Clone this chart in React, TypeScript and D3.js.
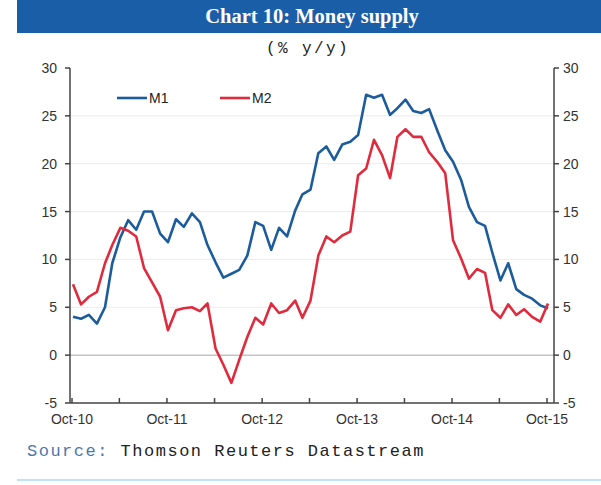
import * as React from "react";
import * as d3 from "d3";

const width = 601;
const height = 485;

const startMonth = new Date(2010, 9, 1);

const m1Values = [
  4.0, 3.8, 4.2, 3.3, 5.0, 9.6, 12.3, 14.1, 13.1, 15.0, 15.0, 12.7, 11.8, 14.2, 13.4, 14.8,
  13.9, 11.5, 9.7, 8.1, 8.5, 8.9, 10.4, 13.9, 13.5, 11.0, 13.3, 12.4, 15.1, 16.8, 17.3,
  21.1, 21.8, 20.4, 22.0, 22.3, 23.0, 27.2, 26.9, 27.2, 25.1, 25.8, 26.7, 25.5, 25.3, 25.7,
  23.5, 21.4, 20.2, 18.3, 15.5, 13.9, 13.5, 10.7, 7.8, 9.6, 6.9, 6.3, 5.9, 5.2, 4.9,
];

const m2Values = [
  7.4, 5.3, 6.1, 6.6, 9.6, 11.5, 13.3, 13.0, 12.4, 9.1, 7.6, 6.1, 2.6, 4.7, 4.9, 5.0,
  4.6, 5.4, 0.7, -1.0, -2.9, -0.5, 1.9, 3.9, 3.2, 5.4, 4.4, 4.7, 5.7, 3.9, 5.7,
  10.4, 12.4, 11.8, 12.5, 12.9, 18.8, 19.5, 22.5, 20.9, 18.5, 22.8, 23.6, 22.8, 22.8, 21.2,
  20.2, 19.0, 12.0, 10.1, 8.0, 9.0, 8.6, 4.7, 3.9, 5.3, 4.2, 4.8, 4.0, 3.5, 5.4,
];

const yTicks = [-5, 0, 5, 10, 15, 20, 25, 30];
const xLabels = ["Oct-10", "Oct-11", "Oct-12", "Oct-13", "Oct-14", "Oct-15"];

const series = [
  { name: "M1", values: m1Values, color: "#1c5c9c" },
  { name: "M2", values: m2Values, color: "#e02a3e" },
];

const months = m1Values.map((_, i) => d3.timeMonth.offset(startMonth, i));

const axisFont = "Arial, 'Liberation Sans', sans-serif";
const monoFont = "'Liberation Mono', 'DejaVu Sans Mono', monospace";

const left = 70;
const right = 554;
const top = 68;
const bottom = 403;

export default function App() {
  const xScale = React.useMemo(
    () =>
      d3
        .scaleTime()
        .domain([startMonth, d3.timeMonth.offset(startMonth, 60)])
        .range([73, 548]),
    []
  );

  const yScale = React.useMemo(
    () => d3.scaleLinear().domain([-5, 30]).range([bottom, top]),
    []
  );

  const line = d3
    .line<number>()
    .x((_, i) => xScale(months[i]))
    .y((d) => yScale(d));

  // half-yearly ticks (Oct / Apr)
  const tickMonths = d3.range(0, 61, 6).map((m) => d3.timeMonth.offset(startMonth, m));

  return (
    <div style={{ position: "absolute", left: 0, top: 0 }}>
      <svg width={width} height={height} viewBox={`0 0 ${width} ${height}`}>
        <rect x={0} y={0} width={width} height={height} fill="#ffffff" />
        <rect x={17} y={0} width={width - 17} height={33} fill="#1b5ea8" />
        <text
          x={312}
          y={23}
          textAnchor="middle"
          fill="#ffffff"
          fontFamily="'Liberation Serif', 'Times New Roman', serif"
          fontWeight="bold"
          fontSize={20.5}
        >
          Chart 10: Money supply
        </text>
        <text
          x={308}
          y={53}
          textAnchor="middle"
          fill="#222"
          fontFamily={monoFont}
          fontSize={16}
          letterSpacing={2.4}
        >
          (% y/y)
        </text>

        {/* gridlines */}
        {yTicks
          .filter((t) => t > -5 && t < 30)
          .map((t) => (
            <line
              key={t}
              x1={left}
              x2={right}
              y1={yScale(t)}
              y2={yScale(t)}
              stroke={t === 0 ? "#c4c4c4" : "#ececec"}
              strokeWidth={t === 0 ? 1.5 : 1}
            />
          ))}

        {/* axes */}
        <line x1={left} x2={left} y1={top} y2={bottom} stroke="#444" strokeWidth={1.5} />
        <line x1={right} x2={right} y1={top} y2={bottom} stroke="#444" strokeWidth={1.5} />
        <line x1={left} x2={right} y1={bottom} y2={bottom} stroke="#444" strokeWidth={1.5} />

        {yTicks.map((t) => (
          <g key={t}>
            <line x1={left - 5} x2={left} y1={yScale(t)} y2={yScale(t)} stroke="#444" strokeWidth={1.5} />
            <line x1={right} x2={right + 5} y1={yScale(t)} y2={yScale(t)} stroke="#444" strokeWidth={1.5} />
            <text
              x={57}
              y={yScale(t) + 5}
              textAnchor="end"
              fontFamily={axisFont}
              fontSize={14}
              fill="#333"
            >
              {t}
            </text>
            <text
              x={563}
              y={yScale(t) + 5}
              textAnchor="start"
              fontFamily={axisFont}
              fontSize={14}
              fill="#333"
            >
              {t}
            </text>
          </g>
        ))}

        {tickMonths.map((d, i) => (
          <line
            key={i}
            x1={xScale(d) - 1}
            x2={xScale(d) - 1}
            y1={bottom}
            y2={bottom - 5}
            stroke="#444"
            strokeWidth={1.5}
          />
        ))}

        {xLabels.map((label, i) => (
          <text
            key={label}
            x={xScale(d3.timeMonth.offset(startMonth, i * 12)) - 1}
            y={424}
            textAnchor="middle"
            fontFamily={axisFont}
            fontSize={14}
            fill="#333"
          >
            {label}
          </text>
        ))}

        {/* series */}
        {series.map((s) => (
          <path
            key={s.name}
            d={line(s.values) || ""}
            fill="none"
            stroke={s.color}
            strokeWidth={2.6}
            strokeLinejoin="round"
          />
        ))}

        {/* legend */}
        {series.map((s, i) => (
          <g key={s.name} transform={`translate(${117 + i * 103}, 98)`}>
            <line x1={0} x2={30} y1={0} y2={0} stroke={s.color} strokeWidth={2.6} />
            <text x={32} y={5} fontFamily={axisFont} fontSize={14} fill="#222">
              {s.name}
            </text>
          </g>
        ))}

        <text x={27} y={456} fontFamily={monoFont} fontSize={17} letterSpacing={1.5}>
          <tspan fill="#4a79ad">Source:</tspan>
          <tspan fill="#222"> Thomson Reuters Datastream</tspan>
        </text>

        <line x1={17} x2={width} y1={480} y2={480} stroke="#bfe2f5" strokeWidth={2} />
      </svg>
    </div>
  );
}
